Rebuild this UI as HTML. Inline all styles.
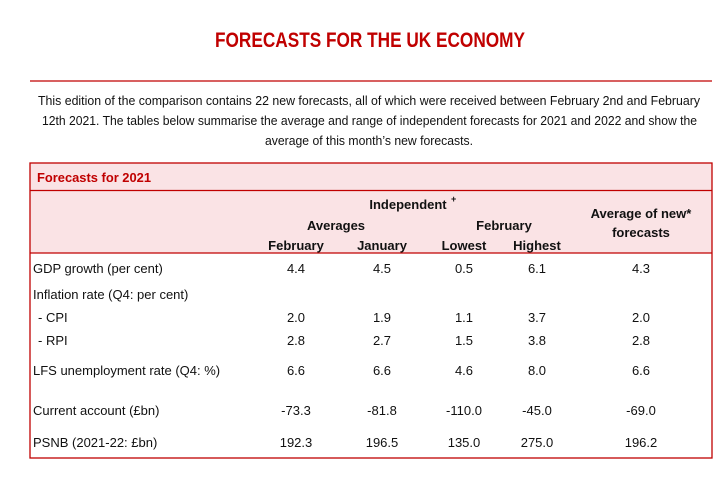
<!DOCTYPE html>
<html><head><meta charset="utf-8"><style>
html,body{margin:0;padding:0;background:#fff;width:727px;height:479px;overflow:hidden}
svg{display:block}
text{font-family:"Liberation Sans Narrow","Liberation Sans",sans-serif;fill:#111}
.h{font-weight:bold}
.n{font-size:13px;text-anchor:middle}
.l{font-size:13px}
</style></head><body>
<svg width="727" height="479" viewBox="0 0 727 479">
<text x="370" y="47" text-anchor="middle" font-size="21" font-weight="bold" style="fill:#c00000" textLength="310" lengthAdjust="spacingAndGlyphs">FORECASTS FOR THE UK ECONOMY</text>
<line x1="30" y1="81" x2="712" y2="81" stroke="#c00000" stroke-width="1.3"/>
<g font-size="13">
<text x="38" y="105" textLength="662" lengthAdjust="spacingAndGlyphs">This edition of the comparison contains 22 new forecasts, all of which were received between February 2nd and February</text>
<text x="42" y="125" textLength="655" lengthAdjust="spacingAndGlyphs">12th 2021. The tables below summarise the average and range of independent forecasts for 2021 and 2022 and show the</text>
<text x="265" y="145" textLength="208" lengthAdjust="spacingAndGlyphs">average of this month’s new forecasts.</text>
</g>
<g>
<rect x="30" y="163" width="682" height="90" fill="#fae3e5"/>
<rect x="30" y="163" width="682" height="295" fill="none" stroke="#c00000" stroke-width="1.3"/>
<line x1="30" y1="190.5" x2="712" y2="190.5" stroke="#c00000" stroke-width="1.3"/>
<line x1="30" y1="253" x2="712" y2="253" stroke="#c00000" stroke-width="1.3"/>
<text class="h" x="37" y="182" font-size="13" style="fill:#c00000" textLength="114" lengthAdjust="spacingAndGlyphs">Forecasts for 2021</text>
<text class="h n" x="408" y="209" font-size="14">Independent</text>
<text class="h" x="451" y="202" font-size="9">+</text>
<text class="h n" x="336" y="230">Averages</text>
<text class="h n" x="504" y="230">February</text>
<text class="h n" x="296" y="250">February</text>
<text class="h n" x="382" y="250">January</text>
<text class="h n" x="464" y="250">Lowest</text>
<text class="h n" x="537" y="250">Highest</text>
<text class="h n" x="641" y="218">Average of new*</text>
<text class="h n" x="641" y="237">forecasts</text>
<g>
<text class="l" x="33" y="273">GDP growth (per cent)</text>
<text class="n" x="296" y="273">4.4</text><text class="n" x="382" y="273">4.5</text><text class="n" x="464" y="273">0.5</text><text class="n" x="537" y="273">6.1</text><text class="n" x="641" y="273">4.3</text>
<text class="l" x="33" y="299">Inflation rate (Q4:  per cent)</text>
<text class="l" x="38" y="322">-  CPI</text>
<text class="n" x="296" y="322">2.0</text><text class="n" x="382" y="322">1.9</text><text class="n" x="464" y="322">1.1</text><text class="n" x="537" y="322">3.7</text><text class="n" x="641" y="322">2.0</text>
<text class="l" x="38" y="345">-  RPI</text>
<text class="n" x="296" y="345">2.8</text><text class="n" x="382" y="345">2.7</text><text class="n" x="464" y="345">1.5</text><text class="n" x="537" y="345">3.8</text><text class="n" x="641" y="345">2.8</text>
<text class="l" x="33" y="375">LFS unemployment rate (Q4: %)</text>
<text class="n" x="296" y="375">6.6</text><text class="n" x="382" y="375">6.6</text><text class="n" x="464" y="375">4.6</text><text class="n" x="537" y="375">8.0</text><text class="n" x="641" y="375">6.6</text>
<text class="l" x="33" y="415">Current account (£bn)</text>
<text class="n" x="296" y="415">-73.3</text><text class="n" x="382" y="415">-81.8</text><text class="n" x="464" y="415">-110.0</text><text class="n" x="537" y="415">-45.0</text><text class="n" x="641" y="415">-69.0</text>
<text class="l" x="33" y="447">PSNB (2021-22: £bn)</text>
<text class="n" x="296" y="447">192.3</text><text class="n" x="382" y="447">196.5</text><text class="n" x="464" y="447">135.0</text><text class="n" x="537" y="447">275.0</text><text class="n" x="641" y="447">196.2</text>
</g>
</g>
</svg>
</body></html>
